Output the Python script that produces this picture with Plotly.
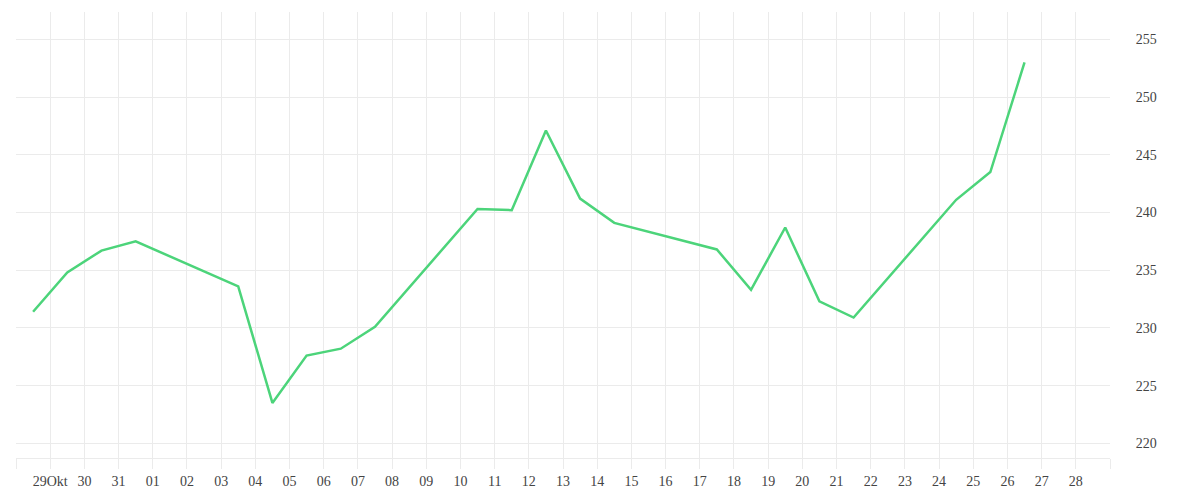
"""Price line chart, daily ticks, values on the right axis."""
import plotly.graph_objects as go

# trading days (plotted at midday) and closing values
dates = ['2018-10-28', '2018-10-29', '2018-10-30', '2018-10-31',
         '2018-11-03', '2018-11-04', '2018-11-05', '2018-11-06', '2018-11-07',
         '2018-11-10', '2018-11-11', '2018-11-12', '2018-11-13', '2018-11-14',
         '2018-11-17', '2018-11-18', '2018-11-19', '2018-11-20', '2018-11-21',
         '2018-11-24', '2018-11-25', '2018-11-26']
values = [231.4, 234.8, 236.7, 237.5,
          233.6, 223.5, 227.6, 228.2, 230.1,
          240.3, 240.2, 247.1, 241.2, 239.1,
          236.8, 233.3, 238.7, 232.3, 230.9,
          241.1, 243.5, 253.0]

# x tick days and their labels (ends unlabelled)
tick_days = ['2018-10-%02d' % d for d in range(28, 32)] + \
            ['2018-11-%02d' % d for d in range(1, 30)]
tick_labels = [''] + ['29Okt', '30', '31'] + ['%02d' % d for d in range(1, 29)] + ['']

y_ticks = [220, 225, 230, 235, 240, 245, 250, 255]

GRID = '#ebebeb'
TEXT = '#444444'

fig = go.Figure(go.Scatter(
    x=[d + ' 12:00' for d in dates],
    y=values,
    mode='lines',
    line=dict(color='#4cd47a', width=2.5),
    hoverinfo='x+y',
))

# page body adds 8px, so margins are a bit smaller than they look
fig.update_layout(
    width=1200, height=500,
    margin=dict(l=8, r=98, t=4, b=50, autoexpand=False),
    plot_bgcolor='white', paper_bgcolor='white',
    showlegend=False,
    font=dict(family='Liberation Serif', size=14, color=TEXT),
)

fig.update_xaxes(
    type='date',
    range=['2018-10-28', '2018-11-29'],
    tickvals=tick_days, ticktext=tick_labels,
    showgrid=True, gridcolor=GRID, gridwidth=1,
    ticks='outside', ticklen=10, tickcolor=GRID,
    showline=True, linecolor=GRID, linewidth=1,
    zeroline=False,
)

# invisible ticks push the labels away from the plot edge
fig.update_yaxes(
    side='right',
    range=[218.73, 257.37],
    tickvals=y_ticks,
    showgrid=True, gridcolor=GRID, gridwidth=1,
    ticks='outside', ticklen=22, tickcolor='rgba(0,0,0,0)',
    zeroline=False,
)

fig.write_html("out.html")
